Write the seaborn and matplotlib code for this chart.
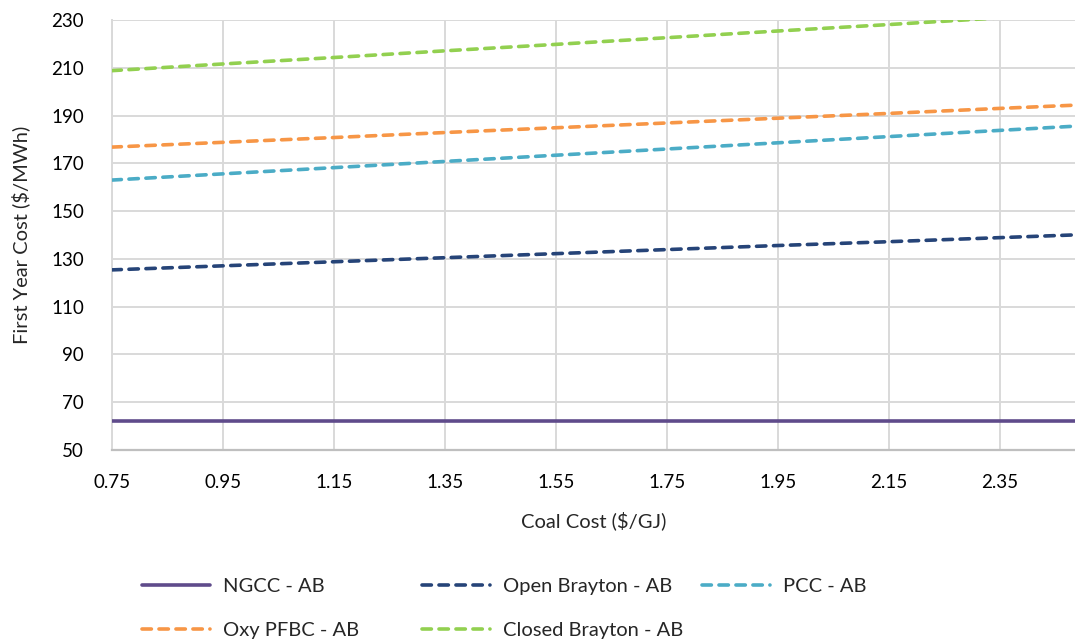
import matplotlib
matplotlib.use("Agg")
import matplotlib.pyplot as plt
import seaborn as sns
import pandas as pd
import numpy as np

coal_cost = [0.75, 0.95, 1.15, 1.35, 1.55, 1.75, 1.95, 2.15, 2.35, 2.55]
ngcc = [62.0, 62.0, 62.0, 62.0, 62.0, 62.0, 62.0, 62.0, 62.0, 62.0]
open_brayton = [125.4, 127.1, 128.8, 130.5, 132.2, 133.9, 135.6, 137.2, 138.9, 140.6]
pcc = [163.0, 165.6, 168.2, 170.8, 173.4, 176.0, 178.6, 181.2, 183.8, 186.4]
oxy_pfbc = [176.8, 178.8, 180.8, 182.9, 184.9, 186.9, 188.9, 190.9, 193.0, 195.0]
closed_brayton = [208.8, 211.6, 214.3, 217.1, 219.8, 222.6, 225.4, 228.1, 230.9, 233.6]

series_names = ["NGCC - AB", "Open Brayton - AB", "PCC - AB", "Oxy PFBC - AB", "Closed Brayton - AB"]
series_values = [ngcc, open_brayton, pcc, oxy_pfbc, closed_brayton]
colors = ["#5F4B8B", "#264478", "#4BACC6", "#F79646", "#92D050"]

x_ticks = [0.75, 0.95, 1.15, 1.35, 1.55, 1.75, 1.95, 2.15, 2.35]
x_tick_labels = ["0.75", "0.95", "1.15", "1.35", "1.55", "1.75", "1.95", "2.15", "2.35"]
y_ticks = [50, 70, 90, 110, 130, 150, 170, 190, 210, 230]

sns.set_theme(style="white")
plt.rcParams['font.family'] = ['Lato', 'DejaVu Sans']

fig = plt.figure(figsize=(10.75, 6.44), dpi=100)
ax = fig.add_axes([112/1075, 1 - 450/644, 1 - 112/1075, (450 - 20)/644])

rows = []
for name, vals in zip(series_names, series_values):
    for x, v in zip(coal_cost, vals):
        rows.append({"coal": x, "cost": v, "series": name})
df = pd.DataFrame(rows)

handles = {}
for name, col in zip(series_names, colors):
    sub = df[df["series"] == name]
    sns.lineplot(data=sub, x="coal", y="cost", ax=ax, color=col, linewidth=2.6,
                 legend=False, zorder=3)
    line = ax.get_lines()[-1]
    if name != "NGCC - AB":
        line.set_dashes((2.6, 2.1))
        line.set_dash_capstyle("round")
    handles[name] = line

ax.set_xlim(0.75, 2.485)
ax.set_ylim(50, 230)
ax.set_xticks(x_ticks)
ax.set_xticklabels(x_tick_labels)
ax.set_yticks(y_ticks)
ax.tick_params(axis="both", length=0, labelsize=13.5, colors="#000000")
ax.tick_params(axis="y", pad=20)
ax.tick_params(axis="x", pad=17)
ax.grid(True, color="#D9D9D9", linewidth=1.4)
ax.set_axisbelow(True)
for s in ["top", "right"]:
    ax.spines[s].set_visible(False)
ax.spines["left"].set_color("#D9D9D9")
ax.spines["left"].set_linewidth(1.4)
ax.spines["bottom"].set_color("#BFBFBF")
ax.spines["bottom"].set_linewidth(1.6)

ax.set_xlabel("Coal Cost ($/GJ)", fontsize=14.5, labelpad=15)
ax.set_ylabel("First Year Cost ($/MWh)", fontsize=14.5, labelpad=15)

col_groups = [["NGCC - AB", "Oxy PFBC - AB"], ["Open Brayton - AB", "Closed Brayton - AB"], ["PCC - AB"]]
col_x = [142, 422, 702]
for xs, grp in zip(col_x, col_groups):
    leg = fig.legend([handles[n] for n in grp], grp, loc="upper left",
                     bbox_to_anchor=(xs/1075, 1 - 578/644), frameon=False,
                     fontsize=14.5, handlelength=3.4, handletextpad=0.6,
                     labelspacing=1.35, borderpad=0, borderaxespad=0)

fig.savefig("out.png", dpi=100)
